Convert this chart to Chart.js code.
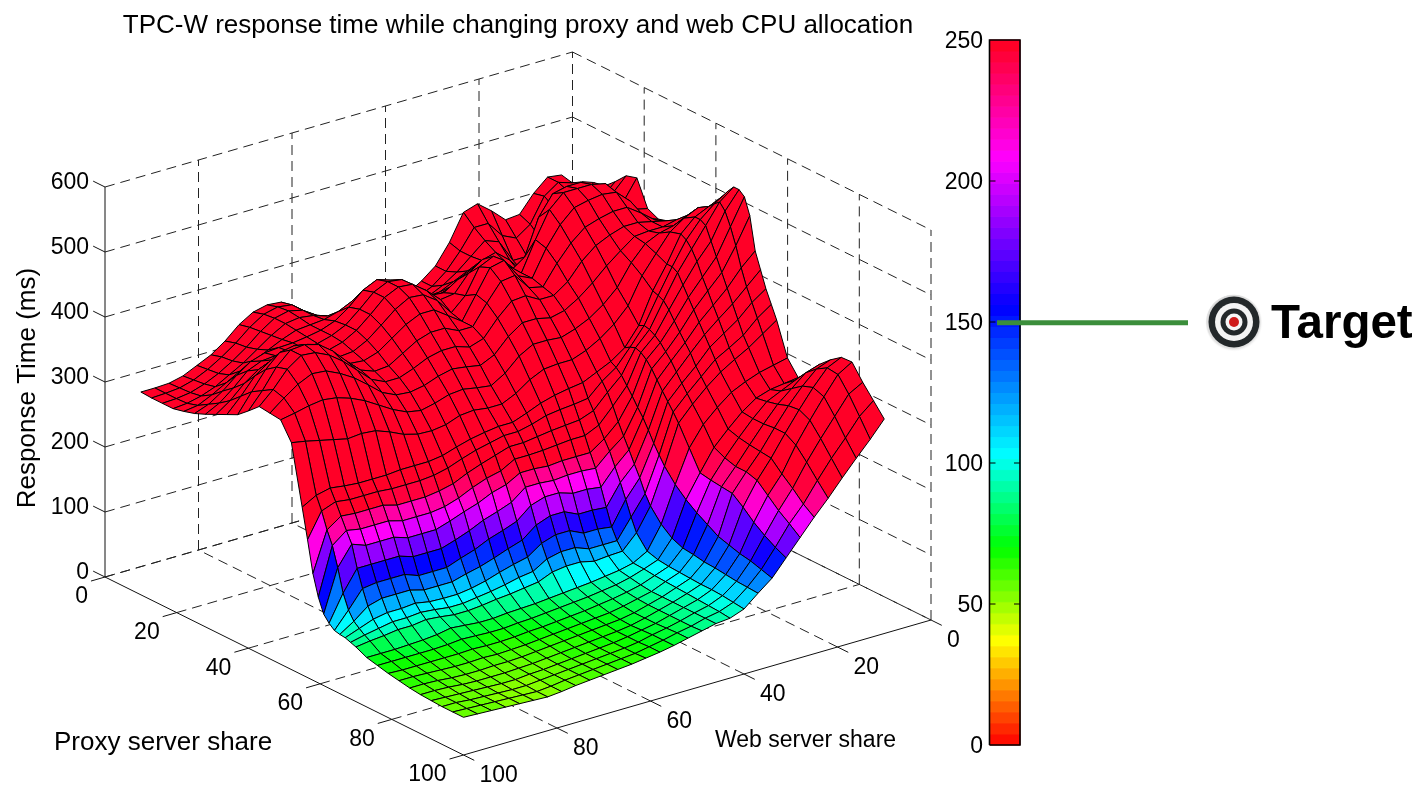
<!DOCTYPE html>
<html><head><meta charset="utf-8">
<style>html,body{margin:0;padding:0;background:#fff;overflow:hidden}canvas{display:block}</style>
<script src="https://cdn.jsdelivr.net/npm/chart.js@4/dist/chart.umd.min.js"></script>
</head><body>
<canvas id="c" width="1425" height="787"></canvas>
<script>
const chartTitle = "TPC-W response time while changing proxy and web CPU allocation";
const proxyAxisTitle = "Proxy server share";
const webAxisTitle = "Web server share";
const zAxisTitle = "Response Time (ms)";
const proxyTicks = [0,20,40,60,80,100];
const webTicks = [0,20,40,60,80,100];
const responseTicks = [0,100,200,300,400,500,600];
const colorbarTicks = [0,50,100,150,200,250];
const targetValue = 150;
const targetLabel = "Target";
const webShares = [10,13,16,19,22,25,28,31,34,37,40,43,46,49,52,55,58,61,64,67,70,73,76,79,82,85,88,91,94,97,100];
const proxyShares = [10,13,16,19,22,25,28,31,34,37,40,43,46,49,52,55,56.5,58,59.5,61,62.5,64,65.5,67,68.5,70,73,76,79,82,85,88,91,94,97,100];
const responseTimes = [
[459,462,443,417,415,435,452,445,405,375,358,345,335,328,325,322,320,325,350,372,388,390,385,372,353,338,328,318,313,312,312],
[455,462,447,410,395,405,430,430,400,375,358,348,340,333,328,325,323,328,350,375,392,395,390,376,358,343,330,320,314,312,311],
[465,455,435,395,375,375,410,418,400,382,368,358,350,343,338,338,340,345,360,378,392,397,392,378,360,345,332,322,315,312,311],
[472,455,425,385,368,365,390,408,402,392,382,372,363,355,352,355,360,368,378,385,392,395,392,380,365,350,338,326,318,313,311],
[475,460,430,395,375,368,378,400,410,405,398,388,378,370,372,385,398,410,410,400,394,392,390,382,372,362,352,340,328,318,315],
[490,470,440,425,420,410,385,378,400,420,418,408,398,392,398,418,438,445,435,415,400,392,388,385,384,382,375,360,342,328,320],
[507,485,478,490,505,505,480,430,405,420,432,432,422,408,410,430,447,450,440,420,402,392,386,385,386,386,384,375,355,338,327],
[512,480,490,515,530,530,525,495,440,425,445,455,440,415,412,432,448,450,440,420,402,390,384,385,392,396,394,385,370,350,335],
[473,478,505,530,535,535,535,515,475,430,448,468,458,420,400,425,440,442,430,412,395,384,382,385,400,410,410,405,390,365,343],
[465,472,505,525,528,525,520,500,470,430,440,470,465,430,395,410,425,425,415,400,385,378,380,392,415,428,432,428,408,380,351],
[470,478,495,510,510,505,498,480,455,425,430,455,452,425,395,395,405,405,398,385,372,370,378,398,420,436,442,440,420,390,365],
[477,485,490,495,495,488,478,460,435,420,420,432,430,410,385,378,385,385,380,370,362,362,372,392,412,428,438,440,425,400,380],
[487,495,490,490,488,472,455,435,418,405,400,405,405,390,368,358,362,365,360,352,348,350,360,378,395,408,418,420,410,395,378],
[505,510,500,495,485,462,430,410,395,385,378,380,380,368,348,335,338,342,340,333,328,332,342,355,368,378,385,388,385,380,376],
[525,530,520,505,478,450,410,388,372,360,352,352,350,340,325,315,315,318,316,308,305,306,312,322,330,332,330,335,340,345,349],
[550,540,530,510,470,435,388,360,345,335,325,322,318,312,303,295,295,292,288,282,275,272,272,272,270,270,270,272,275,270,258],
[562,548,530,505,470,432,392,365,340,325,305,302,300,297,290,285,285,280,275,268,260,255,253,253,253,255,255,255,258,250,212],
[572,555,525,495,465,428,390,368,332,312,290,282,280,278,275,272,272,265,258,250,240,235,232,232,232,238,238,238,240,225,164],
[572,545,505,480,450,418,385,365,320,295,272,262,262,260,258,257,257,245,240,232,222,215,212,212,212,218,218,218,222,205,132],
[565,525,485,460,435,405,378,358,308,275,255,240,240,240,238,240,240,228,222,212,205,197,190,190,190,197,197,197,205,175,110],
[540,500,465,443,420,392,368,348,295,257,240,220,222,222,220,222,222,205,197,190,180,172,165,165,165,172,172,172,172,140,100],
[490,470,445,425,405,380,358,335,283,240,220,195,198,198,205,205,198,180,172,165,155,148,140,140,140,148,148,148,145,118,93],
[465,445,425,408,390,368,345,322,268,222,200,168,170,170,180,180,172,155,148,140,133,128,122,122,122,128,128,128,122,105,91],
[440,425,405,390,375,352,332,310,252,205,178,142,145,145,155,155,148,133,128,122,115,110,107,107,108,112,110,110,106,98,90],
[420,405,385,372,360,340,320,298,238,185,155,125,125,125,133,133,128,115,112,107,103,100,97,97,100,102,100,100,96,92,87],
[400,385,370,358,345,328,308,285,225,170,135,113,112,110,115,115,112,103,100,97,95,92,90,90,93,95,92,92,89,87,84],
[350,345,340,332,322,305,285,255,205,150,115,103,98,95,92,90,88,86,84,83,82,80,80,82,84,80,78,77,76,76,76],
[328,325,322,315,300,280,258,225,190,137,110,102,95,90,87,84,82,80,78,76,75,73,73,74,75,73,72,72,72,72,72],
[345,338,328,318,298,275,250,222,178,130,108,100,92,87,83,80,77,75,73,71,70,68,67,67,68,67,67,67,67,67,68],
[365,358,340,322,298,272,245,220,168,128,107,99,90,85,80,76,74,72,70,68,66,64,63,62,63,62,62,63,64,65,65],
[380,372,352,328,300,270,245,218,158,125,106,98,90,84,78,74,72,70,68,66,64,62,60,59,59,58,58,59,61,62,62],
[392,382,358,330,300,268,240,205,153,124,105,97,90,84,78,73,70,68,66,64,62,60,58,57,56,56,56,57,59,60,60],
[393,380,352,322,290,252,225,190,148,122,105,96,90,84,78,74,70,67,65,63,61,59,57,56,54,54,55,56,57,58,59],
[370,358,330,302,272,238,210,178,145,120,104,95,90,84,79,75,70,67,65,63,61,59,57,55,53,53,54,55,56,58,58],
[350,332,305,280,252,222,198,168,140,119,102,94,90,84,80,75,71,67,65,63,61,59,57,54,52,53,54,55,56,57,58],
[330,305,282,258,233,210,185,160,135,118,100,92,90,85,80,75,71,68,65,63,61,59,57,54,52,53,54,55,56,57,58]
];

/* oblique view of the 3D box: back floor corner plus one step per unit of each axis */
const view = {ox:572.5, oy:442, px:3.585, py:1.78, wx:-4.675, wy:1.35, zy:-0.65};
function project(p,w,z){return {x:view.ox+view.px*p+view.wx*w, y:view.oy+view.py*p+view.wy*w+view.zy*z};}

/* colormap of the figure, 64 flat levels over 0..250 */
const colormapStops = [[0,[255,0,0]],[37,[255,255,0]],[70,[0,255,0]],[103,[0,255,255]],[155,[0,0,255]],[208,[255,0,255]],[250,[255,0,28]]];
const LEVELS = 64, CMAX = 250;
function levelColor(k){
  const v=(k+0.5)*CMAX/LEVELS;
  for(let i=1;i<colormapStops.length;i++){
    const [a,ca]=colormapStops[i-1],[b,cb]=colormapStops[i];
    if(v<=b){const t=(v-a)/(b-a);return 'rgb('+ca.map((c,n)=>Math.round(c+(cb[n]-c)*t)).join(',')+')';}
  }
  return 'rgb(255,0,28)';
}
function colorFor(z){return levelColor(Math.max(0,Math.min(LEVELS-1,Math.floor(z/CMAX*LEVELS))));}

const solid=[9999,1];
function lineDs(points,color,width,dash,yAxisID){
  return {data:points,borderColor:color,borderWidth:width,borderDash:dash||solid,fill:false,pointRadius:0,tension:0,yAxisID:yAxisID||'y',clip:false};
}
const datasets=[];
/* first dataset is painted last: front quads go first */
const barX=[989.5,1020];
const barTickLen=6;
datasets.push(lineDs([{x:997,y:targetValue-0.3},{x:1188,y:targetValue-0.3}],'#3b8e3b',5,solid,'yBar'));
datasets.push(lineDs([{x:barX[0],y:0},{x:barX[1],y:0},{x:barX[1],y:CMAX},{x:barX[0],y:CMAX},{x:barX[0],y:0}],'#000',1.6,solid,'yBar'));
colorbarTicks.slice(1,-1).forEach(v=>{
  datasets.push(lineDs([{x:barX[0],y:v},{x:barX[0]+barTickLen,y:v}],'#000',1,solid,'yBar'));
  datasets.push(lineDs([{x:barX[1]-barTickLen,y:v},{x:barX[1],y:v}],'#000',1,solid,'yBar'));
});
for(let k=LEVELS-1;k>=0;k--){
  const a=k*CMAX/LEVELS,b=(k+1)*CMAX/LEVELS,col=levelColor(k);
  datasets.push({data:[{x:barX[0],y:a},{x:barX[1],y:a},{x:barX[1],y:b},{x:barX[0],y:b},{x:barX[0],y:a}],
    backgroundColor:col,borderColor:col,borderWidth:1,fill:'shape',pointRadius:0,tension:0,yAxisID:'yBar',borderDash:solid});
}
/* surface, nearest quad first */
for(let i=proxyShares.length-2;i>=0;i--){
  for(let j=webShares.length-2;j>=0;j--){
    const zs=[responseTimes[i][j],responseTimes[i+1][j],responseTimes[i+1][j+1],responseTimes[i][j+1]];
    const m=(zs[0]+zs[1]+zs[2]+zs[3])/4;
    const a=project(proxyShares[i],webShares[j],zs[0]),
          b=project(proxyShares[i+1],webShares[j],zs[1]),
          c=project(proxyShares[i+1],webShares[j+1],zs[2]),
          d=project(proxyShares[i],webShares[j+1],zs[3]);
    datasets.push({data:[a,b,c,d,a],backgroundColor:colorFor(m),borderColor:'#000',borderWidth:1,
      borderJoinStyle:'round',fill:'shape',pointRadius:0,tension:0,borderDash:solid,clip:false});
  }
}
/* solid box edges and ticks */
const tickInk='#111';
datasets.push(lineDs([project(0,100,0),project(0,100,600)],tickInk,1));
datasets.push(lineDs([project(0,100,0),project(100,100,0),project(100,0,0)],tickInk,1));
responseTicks.forEach(z=>datasets.push(lineDs([project(0,100,z),project(-3.3,100,z)],tickInk,1)));
proxyTicks.forEach(p=>datasets.push(lineDs([project(p,100,0),project(p,103,0)],tickInk,1)));
webTicks.forEach(w=>datasets.push(lineDs([project(100,w,0),project(103,w,0)],tickInk,1)));
/* dashed grid on floor and back walls */
const gridDash=[10,6], gridInk='#222';
proxyTicks.forEach(p=>{
  if(p<100) datasets.push(lineDs([project(p,100,0),project(p,0,0)],gridInk,1,gridDash));
  datasets.push(lineDs([project(p,0,0),project(p,0,600)],gridInk,1,gridDash));
});
webTicks.forEach(w=>{
  if(w<100) datasets.push(lineDs([project(100,w,0),project(0,w,0)],gridInk,1,gridDash));
  if(w<100&&w>0) datasets.push(lineDs([project(0,w,0),project(0,w,600)],gridInk,1,gridDash));
});
responseTicks.forEach(z=>{
  datasets.push(lineDs([project(0,100,z),project(0,0,z)],gridInk,1,gridDash));
  datasets.push(lineDs([project(0,0,z),project(100,0,z)],gridInk,1,gridDash));
});

const FONT='"Liberation Sans",Arial,sans-serif';
const textPlugin={id:'figureText',afterDraw(chart){
  const ctx=chart.ctx;
  const txt=(s,x,y,font,align,rot)=>{
    ctx.save();ctx.font=font;ctx.fillStyle='#000';ctx.textAlign=align||'left';ctx.textBaseline='middle';
    ctx.translate(x,y);if(rot)ctx.rotate(rot);ctx.fillText(s,0,0);ctx.restore();
  };
  const f='23px '+FONT;
  txt(chartTitle,518,26,'26px '+FONT,'center');
  txt(zAxisTitle,28,388,'26px '+FONT,'center',-Math.PI/2);
  txt(proxyAxisTitle,54,743,'26px '+FONT,'left');
  txt(webAxisTitle,715,741,'23px '+FONT,'left');
  responseTicks.forEach(z=>{const q=project(0,100,z);txt(String(z),q.x-16,q.y-4,f,'right');});
  proxyTicks.forEach(p=>{const q=project(p,100,0);txt(String(p),q.x-17,q.y+20,f,'right');});
  webTicks.forEach(w=>{const q=project(100,w,0);txt(String(w),q.x+16,q.y+21,f,'left');});
  /* target emblem */
  const cx=1234,cy=322;
  const halo=ctx.createRadialGradient(cx-2,cy-3,22,cx,cy+1,29);
  halo.addColorStop(0,'#cfcfcf');halo.addColorStop(0.7,'#e4e4e4');halo.addColorStop(1,'rgba(255,255,255,0)');
  ctx.fillStyle=halo;ctx.beginPath();ctx.arc(cx,cy+1,29,0,7);ctx.fill();
  [[25.5,'#23282a'],[19,'#f4f4f4'],[13.5,'#23282a'],[8.5,'#f6f6f6'],[5,'#cf1a1a']].forEach(([r,col])=>{
    ctx.fillStyle=col;ctx.beginPath();ctx.arc(cx,cy,r,0,7);ctx.fill();
  });
  txt(targetLabel,1271,325,'bold 47.5px '+FONT,'left');
}};

new Chart(document.getElementById('c'),{
  type:'line',
  data:{datasets},
  plugins:[textPlugin],
  options:{
    responsive:false,animation:false,events:[],
    layout:{padding:0},
    parsing:{xAxisKey:'x',yAxisKey:'y'},
    plugins:{legend:{display:false},tooltip:{enabled:false},title:{display:false}},
    scales:{
      x:{type:'linear',display:false,min:0,max:1425},
      y:{type:'linear',display:false,min:0,max:787,reverse:true},
      yBar:{type:'linear',axis:'y',position:{x:983},min:-(787-745)/(705/CMAX),max:CMAX+40/(705/CMAX),
        grid:{display:false},border:{display:false},
        afterBuildTicks(s){s.ticks=colorbarTicks.map(v=>({value:v}));},
        afterFit(s){s.paddingTop=0;s.paddingBottom=0;s.paddingLeft=0;s.paddingRight=0;},
        ticks:{color:'#000',font:{family:'"Liberation Sans",Arial,sans-serif',size:23},padding:0,labelOffset:1.5,autoSkip:false,maxRotation:0,callback:v=>String(v)}}
    }
  }
});
</script>
</body></html>
